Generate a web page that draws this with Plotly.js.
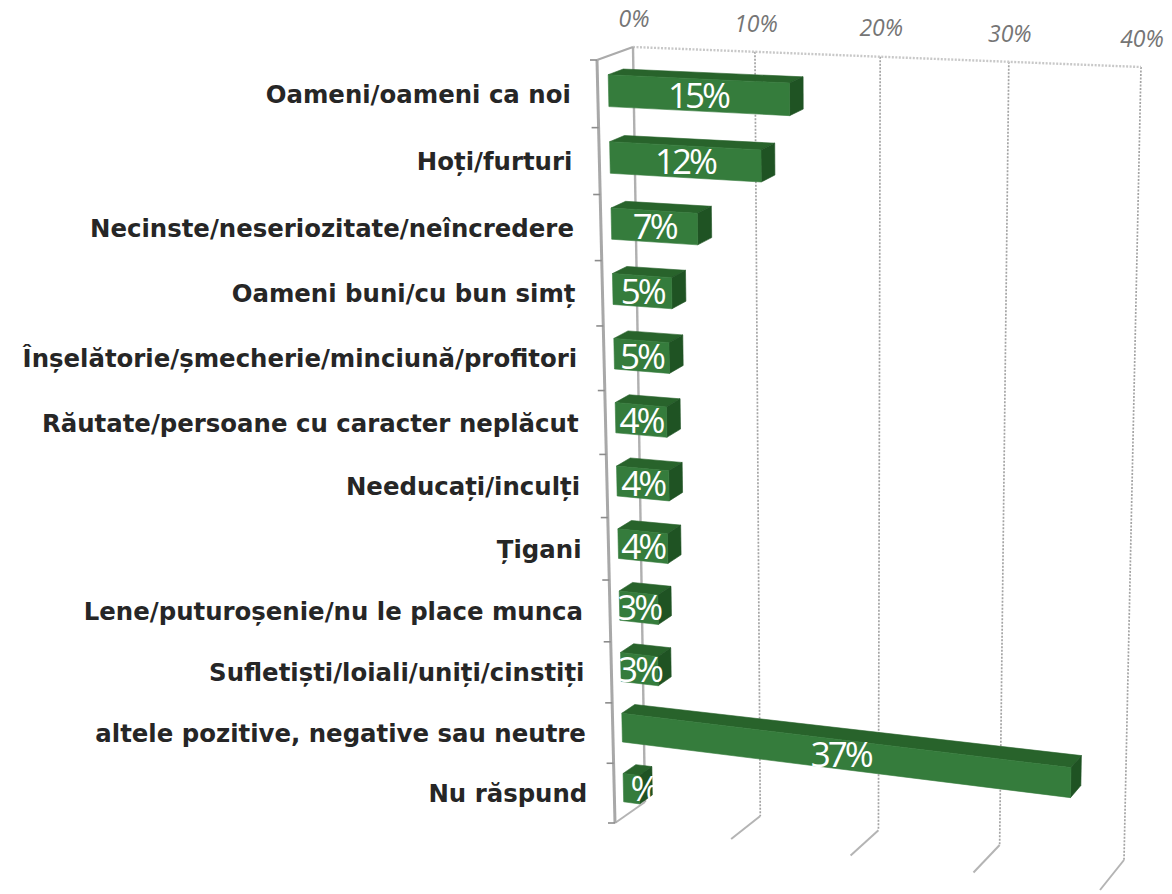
<!DOCTYPE html>
<html>
<head>
<meta charset="utf-8">
<script src="https://cdn.plot.ly/plotly-3.0.1.min.js"></script>
<style>html,body{margin:0;padding:0;background:#fff}#chart{width:1172px;height:894px}
.textpoint text[style*="rgb(255, 255, 255)"]{letter-spacing:-3px}</style>
</head>
<body>
<div id="chart"></div>
<script>
const categories = ["Oameni/oameni ca noi","Hoți/furturi","Necinste/neseriozitate/neîncredere","Oameni buni/cu bun simț","Înșelătorie/șmecherie/minciună/profitori","Răutate/persoane cu caracter neplăcut","Needucați/inculți","Țigani","Lene/puturoșenie/nu le place munca","Sufletiști/loiali/uniți/cinstiți","altele pozitive, negative sau neutre","Nu răspund"];
const barValues = [14.6,12.3,7.1,4.9,4.6,4.3,4.4,4.2,3.3,3.2,37,1.4];
const barLabels = ["15%","12%","7%","5%","5%","4%","4%","4%","3%","3%","37%","%"];
const axisTicks = [0,10,20,30,40];
const axisMax = 40;

function quad(p){
  const [[x0,y0],[x1,y1],[x2,y2],[x3,y3]] = p;
  const dx1=x1-x2,dx2=x3-x2,sx=x0-x1+x2-x3,dy1=y1-y2,dy2=y3-y2,sy=y0-y1+y2-y3;
  const det=dx1*dy2-dx2*dy1;
  const g=(sx*dy2-dx2*sy)/det,h=(dx1*sy-sx*dy1)/det;
  const a=x1-x0+g*x1,b=x3-x0+h*x3,d=y1-y0+g*y1,e=y3-y0+h*y3;
  return (u,v)=>{const w=g*u+h*v+1;return [(a*u+b*v+x0)/w,(d*u+e*v+y0)/w];};
}
const backWall = quad([[633,47],[1141,67],[1124,860],[645,802]]);
const frontEdge = quad([[597,60],[1117,84],[1100,890],[615,823]]);
const n = categories.length;
// value, row position (0..n), depth (0 = front, 1 = back) -> pixel-scale axis coordinates
function P(val,row,depth){
  const a=frontEdge(val/axisMax,row/n), b=backWall(val/axisMax,row/n);
  return [a[0]+(b[0]-a[0])*depth,a[1]+(b[1]-a[1])*depth];
}
function polyline(points,style,extra){
  return Object.assign({type:'scatter',mode:'lines',x:points.map(p=>p?p[0]:null),y:points.map(p=>p?p[1]:null),line:style,hoverinfo:'skip',showlegend:false,connectgaps:false},extra||{});
}
function poly(points,color){
  const c=points.concat([points[0]]);
  return polyline(c,{width:0.6,color:color},{fill:'toself',fillcolor:color});
}
const traces=[];
// back wall grid
axisTicks.forEach(t=>{
  if(t>0) traces.push(polyline([P(t,0,1),P(t,n,1)],{color:'#a4a4a4',width:1.7,dash:'2px,1.5px'}));
  if(t>0) traces.push(polyline([P(t,n,1),P(t,n,0)],{color:'#b4b4b4',width:2}));
});
traces.push(polyline([P(0,0,1),P(axisMax,0,1)],{color:'#c8c8c8',width:2.4,dash:'2px,1.5px'}));
// axis frame
traces.push(polyline([P(0,0,1),P(0,n,1)],{color:'#b0b0b0',width:2.4}));
traces.push(polyline([P(0,n,1),P(0,n,0)],{color:'#b4b4b4',width:2}));
traces.push(polyline([P(0,0,1),P(0,0,0)],{color:'#ababab',width:2.2}));
traces.push(polyline([P(0,0,0),P(0,n,0)],{color:'#a8a8a8',width:3}));
const tickPts=[];
for(let i=0;i<=n;i++){const p=P(0,i,0);tickPts.push([p[0]-7,p[1]],p,null);}
traces.push(polyline(tickPts,{color:'#8c8c8c',width:1.6}));
// bars
const dF=0.3,dB=0.72,rT=0.275,rB=0.75;
const faceFront='#357c3c',faceTop='#28632b',faceSide='#1f5323';
barValues.forEach((v,i)=>{
  const a=i+rT,b=i+rB;
  traces.push(poly([P(0,a,dF),P(0,a,dB),P(v,a,dB),P(v,a,dF)],faceTop));
  traces.push(poly([P(v,a,dF),P(v,a,dB),P(v,b,dB),P(v,b,dF)],faceSide));
  traces.push(poly([P(0,a,dF),P(v,a,dF),P(v,b,dF),P(0,b,dF)],faceFront));
});
// value labels, centred on each front face
const lab=barValues.map((v,i)=>{const p=P(v/2,i+(rT+rB)/2,dF);return barLabels[i]==='%'?[p[0]+12,p[1]]:p;});
traces.push({type:'scatter',mode:'text',x:lab.map(p=>p[0]),y:lab.map(p=>p[1]+4),text:barLabels,textposition:'middle center',
  textfont:{family:'"Open Sans",sans-serif',size:35,color:'#ffffff'},hoverinfo:'skip',showlegend:false,cliponaxis:false});
// category labels
const cat=categories.map((c,i)=>{const p=P(0,i+0.5,0);return [p[0]-27,p[1]+3];});
traces.push({type:'scatter',mode:'text',x:cat.map(p=>p[0]),y:cat.map(p=>p[1]),text:categories,textposition:'middle left',
  textfont:{family:'"DejaVu Sans",sans-serif',size:24.4,color:'#262626',weight:700},hoverinfo:'skip',showlegend:false,cliponaxis:false});
// value axis labels
const tl=axisTicks.map(t=>{const p=P(t,0,1);return [p[0]+1,p[1]-26];});
traces.push({type:'scatter',mode:'text',x:tl.map(p=>p[0]),y:tl.map(p=>p[1]),text:axisTicks.map(t=>t+'%'),textposition:'middle center',
  textfont:{family:'"Open Sans",sans-serif',size:23,color:'#757575',style:'italic'},hoverinfo:'skip',showlegend:false,cliponaxis:false});

Plotly.newPlot('chart',traces,{
  width:1172,height:894,margin:{l:0,r:0,t:0,b:0},paper_bgcolor:'#fff',plot_bgcolor:'#fff',showlegend:false,
  xaxis:{range:[0,1172],visible:false,fixedrange:true},
  yaxis:{range:[894,0],visible:false,fixedrange:true}
},{displayModeBar:false,staticPlot:true});
</script>
</body>
</html>
